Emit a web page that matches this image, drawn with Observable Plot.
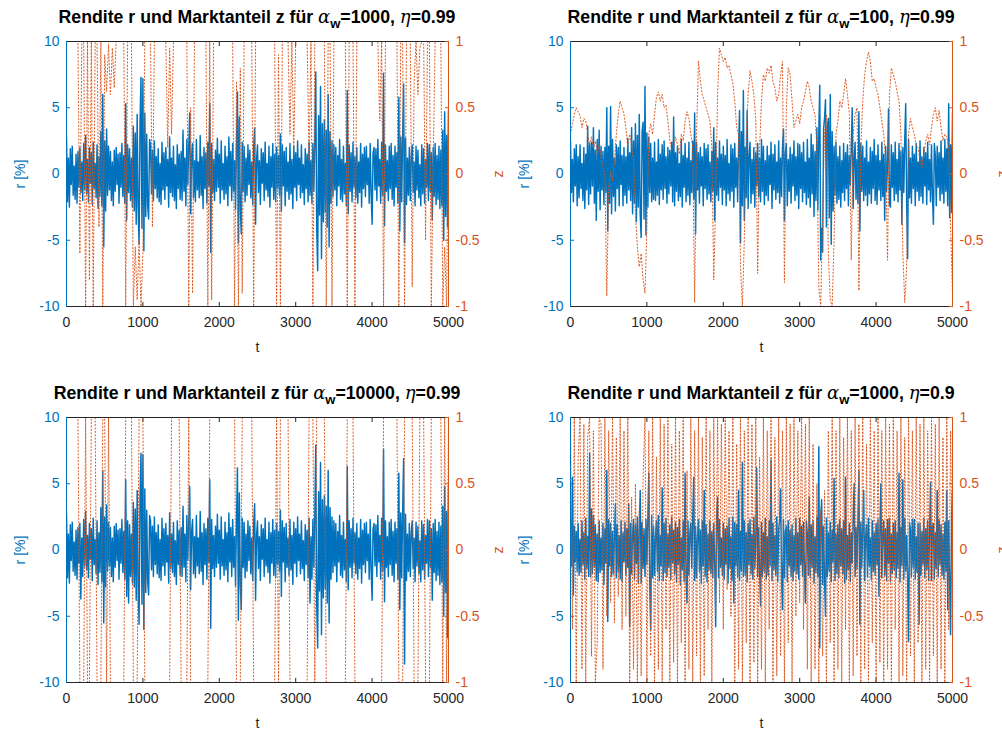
<!DOCTYPE html>
<html><head><meta charset="utf-8">
<script src="https://cdn.jsdelivr.net/npm/d3@7"></script>
<script src="https://cdn.jsdelivr.net/npm/@observablehq/plot@0.6"></script>
<style>
html,body{margin:0;padding:0;background:#fff;}
body{width:1002px;height:729px;overflow:hidden;position:relative;font-family:"Liberation Sans",Arial,sans-serif;}
.title{position:absolute;text-align:center;font-weight:bold;font-size:17.7px;color:#000;white-space:nowrap;line-height:20px;}
.sym{font-family:"DejaVu Serif","Liberation Serif",serif;font-style:italic;font-weight:normal;font-size:18px;}
.title sub{font-size:13px;vertical-align:-5px;line-height:0;}
</style></head><body>
<div id="root"></div>
<script>
// sample spacing in t of the return series and of the market-share series
const rStep = 12.5;
const zStep = 25;
const xTicks = [0,1000,2000,3000,4000,5000];
const rTicks = [-10,-5,0,5,10];
const zTicks = [-1,-0.5,0,0.5,1];
const alphaW = ["1000","100","10000","1000"];
const etaVals = ["0.99","0.99","0.99","0.9"];

// Rendite r [%], panel 1 (alpha_w=1000, eta=0.99)
const r1 = [
2.8,-2.1,1.2,-2.5,1.9,-0.8,2.1,-1.6,0.6,-1.9,1.5,-2.2,1.7,-1.0,2.0,-1.4,0.9,-2.0,2.3,-1.2,
2.9,-1.5,1.1,-2.1,2.0,-0.7,1.6,-2.3,2.4,-1.1,0.8,-1.8,2.2,-2.6,1.3,-1.7,3.2,-2.4,6.0,-5.5,
2.5,-2.8,3.4,-1.6,2.1,-1.2,1.7,-2.0,0.9,-2.4,1.8,-1.3,2.0,-0.8,1.5,-2.2,1.6,-1.0,2.3,-1.7,
1.4,-2.2,5.3,-3.5,2.2,-1.4,1.9,-2.0,1.2,-2.5,3.6,-2.8,3.1,-3.8,4.5,-2.6,-5.3,3.9,7.3,-4.1,
7.2,-5.8,4.6,-3.2,3.0,-2.4,-3.4,2.6,2.2,-1.5,1.8,-2.0,2.5,-1.1,1.3,-1.8,1.9,-2.1,0.8,-2.3,
2.4,-1.2,1.6,-1.9,2.0,-0.9,1.1,-2.5,2.8,-1.4,1.2,-1.7,2.1,-2.0,0.7,-2.6,2.2,-1.1,1.5,-1.9,
1.7,-2.0,3.3,-1.3,1.2,-2.4,2.6,-0.8,2.0,4.6,-3.0,1.4,2.3,-1.8,1.0,-2.1,2.6,-1.2,0.9,-1.8,
2.9,-1.6,1.3,-2.6,2.0,-1.1,1.6,-2.2,2.4,-0.9,5.3,-5.9,2.3,-1.4,1.1,-2.0,1.8,-1.3,2.7,-1.0,
1.5,-2.2,2.5,-1.2,0.8,-1.9,2.1,-1.5,1.3,-2.4,2.8,-0.9,1.7,-2.0,2.3,-1.3,1.0,-2.7,2.0,6.2,
-5.2,4.3,-2.6,-4.5,2.4,-1.3,2.1,-2.1,1.2,-1.6,2.2,-0.8,1.8,-1.8,0.9,-2.3,2.0,3.5,-3.8,1.1,
2.2,-1.4,1.0,-2.3,1.9,-0.7,1.6,-2.0,2.4,-1.2,0.8,-1.7,2.1,-2.5,1.3,-1.0,2.3,-1.9,1.5,-2.1,
2.0,-1.1,1.4,-1.6,3.0,-2.8,2.2,-0.9,1.7,-2.4,2.0,-1.3,0.9,-1.9,2.3,-1.5,1.1,-2.6,2.1,-1.0,
1.6,-2.0,2.5,-0.8,1.2,-1.8,2.2,-1.4,0.7,-2.3,1.9,-1.1,1.5,-2.1,2.4,-1.6,1.0,-2.2,2.3,-1.3,
2.6,7.7,-4.2,-7.3,4.4,-3.1,6.6,-6.4,3.8,-3.6,4.1,-2.9,3.3,-4.0,6.0,-5.5,3.2,-2.2,2.5,-1.7,
2.2,-1.2,2.0,-2.4,1.4,-0.9,2.6,-1.9,1.1,-2.1,2.1,-1.5,0.8,-2.4,6.3,-3.0,2.2,-1.3,1.6,-2.1,
2.4,-1.0,1.3,-1.8,2.0,-2.2,0.9,-1.4,2.3,-2.5,1.5,-1.1,2.0,-1.7,2.1,-0.8,1.2,-2.2,2.3,-1.5,
-3.8,1.6,2.0,-1.2,1.9,-2.0,2.6,-0.9,1.1,-2.2,2.4,-1.6,7.6,-3.9,2.2,-1.3,1.0,-2.0,2.1,-1.1,
2.3,-1.9,1.4,-2.4,2.1,-1.0,1.6,-2.2,5.8,-4.3,2.8,-2.1,3.1,6.8,-5.2,2.7,-2.3,1.2,-1.6,2.0,
-2.0,1.3,2.2,-1.4,0.9,-2.4,2.1,-1.2,1.8,-1.8,0.7,-2.4,2.2,-1.5,1.9,-2.2,1.1,-1.0,2.3,-2.0,
2.2,-1.3,1.6,-3.5,2.0,-1.7,2.3,-2.3,1.4,-1.9,2.1,-2.6,1.8,-2.4,3.3,-5.0,4.7,-3.2,2.9,-4.0,
4.8];

// Rendite r [%], panel 2 (alpha_w=100, eta=0.99)
const r2 = [
2.5,-1.4,1.1,-2.1,1.9,-0.9,2.2,-2.4,1.3,-1.8,2.2,-1.1,0.8,-2.0,2.0,-2.6,1.5,-1.2,3.6,-2.3,
2.3,-1.5,2.4,-0.9,3.5,-2.2,1.8,-3.5,2.6,-1.3,3.3,-2.7,2.1,-1.2,1.7,-2.3,2.0,-1.4,5.0,-4.3,
2.1,-2.2,5.1,-3.0,2.6,-1.7,1.2,-2.8,2.2,-1.1,2.0,-2.4,2.5,-0.8,1.4,-2.4,2.0,-1.6,1.3,-2.2,
2.7,-1.2,1.6,-2.0,3.5,-3.0,2.5,-2.2,3.8,-3.6,2.9,-2.5,4.5,-3.1,-4.8,3.2,3.9,-3.4,6.6,-4.6,
3.1,-2.5,2.8,-1.4,2.3,-2.1,1.2,-1.9,2.4,-2.0,0.9,-1.6,2.6,-2.3,1.5,-1.2,2.2,-1.9,2.5,-1.1,
1.3,-2.2,2.0,-1.5,1.8,-0.9,2.4,-2.1,4.3,-2.4,1.6,-1.3,2.1,-2.0,0.8,-1.7,2.6,-2.5,1.4,-1.0,
2.3,-2.1,1.2,-1.6,2.4,-2.3,1.0,-1.4,2.5,-1.9,4.6,-4.5,2.4,-1.2,1.6,-2.2,2.0,-0.9,1.3,-2.4,
2.3,-1.1,1.9,-1.9,2.2,-1.5,0.9,-2.1,1.7,-1.3,3.5,-3.5,2.4,-1.6,1.2,-2.0,2.5,-1.0,1.5,-2.3,
2.1,-1.2,1.4,-2.4,2.6,-1.5,0.8,-2.0,2.2,-1.3,1.9,-2.5,2.3,-1.0,1.2,-2.1,2.0,4.8,-5.2,3.2,
-2.4,6.3,-3.5,2.0,-1.8,4.8,-2.6,1.3,2.4,-2.2,1.1,-1.5,2.0,-2.5,1.6,-0.9,2.3,-1.7,1.2,-2.1,
2.6,-1.3,2.1,-2.3,1.0,-1.6,2.1,-2.0,1.4,-0.8,2.4,-2.6,1.5,-1.2,2.2,-1.9,0.9,-1.4,2.5,-2.2,
1.2,-1.7,2.1,3.4,-3.5,1.6,2.3,-2.4,1.1,-1.3,2.0,-2.2,1.5,-0.9,2.5,-2.0,1.3,-1.6,2.3,-2.6,
2.2,-1.1,1.6,-2.1,2.4,-1.4,0.9,-2.3,2.6,-1.8,1.2,-2.5,3.0,-1.5,2.2,-3.2,1.7,-2.0,3.5,-2.7,
3.1,6.7,-6.5,-4.1,-5.9,3.4,4.2,5.6,-4.0,3.6,4.2,-3.3,6.0,-5.3,3.2,-2.8,2.1,-1.6,2.4,-2.2,
1.3,-1.9,2.1,-2.5,1.0,-1.4,2.3,-2.0,1.6,-1.1,2.2,-2.4,1.4,-0.8,2.0,5.0,-2.6,1.2,2.4,-1.9,
1.1,-2.2,4.7,-4.3,2.3,-1.3,2.1,-2.0,1.2,-1.6,2.5,-2.4,0.9,-1.5,2.0,-2.2,1.7,-1.1,2.6,-2.0,
1.4,-2.3,2.2,-1.2,1.0,-2.0,2.4,-1.7,1.5,-3.5,2.1,-1.3,0.8,4.9,-2.3,-2.5,2.2,-1.0,1.6,-2.0,
2.4,-1.5,1.1,-2.1,2.3,-1.2,1.7,-3.8,2.0,-1.4,2.6,5.3,-2.2,-6.4,2.6,-1.8,1.2,-2.2,2.1,-1.1,
1.5,-2.4,2.3,-1.3,0.9,-2.0,2.5,-1.7,1.3,-2.2,2.0,-0.9,1.6,-2.3,2.4,-1.2,1.1,-2.1,2.2,-1.6,
-3.8,2.3,1.4,-2.4,2.1,-1.0,1.6,-2.0,2.5,-1.5,1.2,-2.2,2.6,-1.3,1.9,-2.4,5.3,-3.3,2.2,-2.9,
4.6];

// Rendite r [%], panel 3 (alpha_w=10000, eta=0.99)
const r3 = [
2.8,-2.1,1.2,-2.5,1.9,-0.8,2.1,-1.6,0.6,-1.9,1.5,-2.2,1.7,-1.0,2.0,-3.7,0.9,-2.0,2.3,-1.2,
2.9,-1.5,1.1,-2.1,2.0,-0.7,1.6,-2.3,2.4,-1.1,0.8,-1.8,2.2,-2.6,1.3,-1.7,3.2,-2.4,6.0,-5.5,
2.5,-2.8,3.4,-1.6,2.1,-1.2,1.7,-2.0,0.9,-2.4,1.8,-1.3,2.0,-0.8,1.5,-2.2,1.6,-1.0,2.3,-1.7,
1.4,-2.2,5.3,-3.5,2.2,-4.0,1.9,-2.0,1.2,-2.5,3.6,-2.8,3.1,-3.8,4.5,-2.6,-5.6,3.9,7.3,-4.1,
7.2,-6.0,4.6,-3.2,3.0,-2.4,-3.4,2.6,2.2,-1.5,1.8,-2.0,2.5,-1.1,1.3,-1.8,1.9,-2.1,0.8,-2.3,
2.4,-1.2,1.6,-1.9,2.0,-0.9,1.1,-2.5,2.8,-1.4,1.2,-1.7,2.1,-2.0,0.7,-2.6,2.2,-1.1,1.5,-1.9,
1.7,-2.0,3.3,-1.3,1.2,-2.4,2.6,-0.8,2.0,4.8,-3.0,1.4,2.3,-1.8,1.0,-2.1,2.6,-1.2,0.9,-1.8,
2.9,-1.6,1.3,-2.6,2.0,-1.1,1.6,-2.2,2.4,-0.9,5.3,-5.9,2.3,-1.4,1.1,-2.0,1.8,-1.3,2.7,-1.0,
1.5,-2.2,2.5,-1.2,0.8,-1.9,2.1,-1.5,1.3,-2.4,2.8,-0.9,1.7,-2.0,2.3,-1.3,1.0,-2.7,2.0,6.2,
-5.3,4.3,-2.6,-4.5,2.4,-1.3,2.1,-2.1,1.2,-1.6,2.2,-0.8,1.8,-1.8,0.9,-2.3,2.0,3.5,-3.8,1.1,
2.2,-1.4,1.0,-2.3,1.9,-0.7,1.6,-2.0,2.4,-1.2,0.8,-1.7,2.1,-2.5,1.3,-1.0,2.3,-1.9,1.5,-2.1,
2.0,-1.1,1.4,-1.6,3.0,-3.5,2.2,-0.9,1.7,-2.4,2.0,-1.3,0.9,-1.9,2.3,-1.5,1.1,-2.6,2.1,-1.0,
1.6,-2.0,2.5,-0.8,1.2,-1.8,2.2,-1.4,0.7,-2.3,1.9,-1.1,1.5,-2.1,2.4,-4.0,1.0,-2.2,2.3,-1.3,
2.6,7.9,-4.2,-7.4,4.4,-3.1,6.6,-6.4,3.8,-3.6,4.1,-2.9,3.3,-4.0,6.0,-5.5,3.2,-2.2,2.5,-1.7,
2.2,-1.2,2.0,-2.4,1.4,-0.9,2.6,-1.9,1.1,-2.1,2.1,-1.5,0.8,-2.4,6.3,-3.0,2.2,-1.3,1.6,-2.1,
2.4,-1.0,1.3,-1.8,2.0,-2.2,0.9,-1.4,2.3,-2.5,1.5,-1.1,2.0,-1.7,2.1,-0.8,1.2,-2.2,2.3,-1.5,
-3.8,1.6,2.0,-1.2,1.9,-2.0,2.6,-0.9,1.1,-2.2,2.4,-1.6,7.6,-3.9,2.2,-1.3,1.0,-2.0,2.1,-1.1,
2.3,-1.9,1.4,-2.4,2.1,-1.0,1.6,-2.2,5.8,-4.5,2.8,-2.1,3.1,6.9,-8.6,2.7,-2.3,1.2,-1.6,2.0,
-2.0,1.3,2.2,-1.4,0.9,-2.4,2.1,-1.2,1.8,-1.8,0.7,-2.4,2.2,-1.5,1.9,-2.2,1.1,-1.0,2.3,-2.0,
2.2,-1.3,1.6,-3.8,2.0,-1.7,2.3,-2.3,1.4,-1.9,2.1,-2.6,1.8,-2.4,3.3,-5.0,4.8,-3.2,2.9,-6.6,
4.8];

// Rendite r [%], panel 4 (alpha_w=1000, eta=0.9)
const r4 = [
2.1,-1.2,5.5,-3.4,1.8,-0.9,1.4,-1.6,2.0,-1.9,0.8,-1.7,2.2,-1.1,1.3,-2.2,2.4,-1.4,1.0,-2.0,
7.3,-2.0,3.1,-1.8,2.6,-1.3,1.9,-2.3,1.2,-2.4,2.2,-1.7,0.9,-1.5,2.0,-2.6,1.6,-1.0,6.0,-5.4,
2.3,-1.2,2.0,-2.0,1.4,-1.8,0.8,3.5,-2.1,1.9,-1.6,1.1,-2.2,2.2,-2.4,1.3,-0.9,2.1,-1.9,1.6,
-1.3,3.5,-5.8,2.0,-1.8,1.2,2.3,-2.2,1.9,-1.0,2.5,-2.5,1.3,4.5,-2.5,2.1,-1.4,1.6,-2.0,2.3,
-1.1,2.4,5.8,-2.7,-6.0,2.6,-2.1,1.8,-1.9,1.0,2.2,-1.6,2.6,-2.3,1.1,-1.2,4.7,-2.3,2.0,-1.7,
2.4,-2.0,1.2,-1.3,1.9,-2.2,2.5,-1.0,1.5,-1.8,2.1,-2.4,1.7,-1.1,2.3,-2.6,0.9,-1.5,2.2,-2.4,
5.8,-2.1,-4.0,2.2,-1.9,1.3,2.0,-1.4,2.4,5.5,-2.3,1.8,-2.1,1.0,2.3,-1.6,1.5,-2.5,2.2,-1.2,
4.5,-2.0,1.9,-2.4,1.2,-1.5,2.2,-1.8,1.4,-2.1,2.0,-1.0,-5.8,2.6,4.0,-2.1,2.3,-1.3,0.9,-1.9,
2.0,-2.2,1.6,-1.1,1.8,-2.5,2.4,-1.4,1.0,-2.3,2.5,-4.0,2.1,-1.2,1.9,-2.0,4.5,-2.3,1.4,-1.6,
6.6,-2.0,2.2,-1.9,1.3,-2.4,2.0,-1.1,2.3,-1.8,1.2,-2.2,2.5,-1.4,0.8,6.2,-2.0,1.7,-1.5,-4.2,
2.1,-2.0,1.3,-1.6,2.4,-2.2,1.0,-1.9,2.2,-1.2,6.8,-2.3,2.0,-1.5,1.1,-1.9,2.5,-2.4,1.6,2.2,
4.6,-2.0,-4.5,2.3,-2.1,1.4,1.8,-2.4,2.2,-1.2,1.5,-2.0,1.9,-2.3,1.1,-1.6,2.4,-1.8,1.3,-2.2,
2.4,-1.1,1.8,-2.0,2.1,-1.4,-4.0,2.2,1.2,-1.9,4.0,-2.1,1.9,-1.3,2.2,-2.5,1.0,-1.7,2.5,-2.0,
7.8,-7.4,2.6,3.8,-2.6,1.8,-2.2,-5.0,2.4,-2.0,1.3,-1.6,2.1,-2.4,1.5,-0.9,5.4,-2.3,1.2,-1.8,
1.9,-2.1,2.3,-1.2,1.6,-1.8,2.2,-2.5,5.5,-2.2,1.1,-1.5,2.0,-2.4,1.3,-1.0,2.4,5.0,-2.0,1.7,
-1.4,2.2,6.0,-5.6,2.1,-1.3,1.6,4.5,-2.3,1.0,1.9,-2.0,2.4,-1.2,0.9,-2.2,2.2,-1.6,1.3,-1.9,
2.0,-1.1,2.3,-3.5,1.4,5.0,-2.1,1.2,2.2,-1.9,1.6,-2.3,2.3,-1.0,2.4,-2.4,1.2,-1.8,2.0,-1.5,
2.2,-2.1,1.3,-1.4,5.8,-2.4,1.7,-1.2,5.3,-2.2,2.4,-1.6,1.1,-2.0,-6.9,2.1,1.5,-2.0,2.3,-1.3,
2.3,-2.2,1.0,-1.7,2.0,-5.6,2.0,-1.9,1.4,-1.1,2.4,-2.1,1.6,-1.5,2.2,-2.3,1.2,5.1,-2.3,1.8,
2.0,-2.2,1.3,-1.4,4.5,-2.0,2.3,-1.1,1.9,-1.9,1.2,-2.2,2.1,-1.6,4.5,-4.5,2.2,-2.4,-6.4,2.6,
4.5];

// Marktanteil z, panel 1
const z1 = [
1,1,1,1,1,1,1,-0.6,1,1,
-1,1,-0.8,1,-1,1,1,-0.4,1,-1,
0.9,0.62,0.98,0.6,0.95,0.65,1,1,1,1,
1,-1,1,1,1,-1,-0.55,-0.95,-0.5,-1,
-0.6,1,1,1,1,-0.4,1,1,1,1,
1,1,1,0.2,0.95,0.3,1,1,1,1,
1,1,1,1,-1,0.5,-0.9,1,1,1,
1,1,1,1,-1,1,-0.95,1,1,1,
1,1,1,1,1,1,1,1,-1,0.7,
-1,0.8,-0.9,1,1,1,1,1,-1,1,
1,1,1,1,1,1,1,1,1,1,
-1,0.9,-1,1,1,1,1,0.3,1,0.2,
1,1,1,1,1,1,1,0.1,1,-1,
1,1,1,1,1,1,-1,1,1,-1,
1,1,1,1,1,1,1,-1,1,1,
1,-1,1,1,1,1,1,1,1,1,
1,1,1,1,0.4,1,-1,1,1,1,
1,1,1,1,-1,1,1,-1,1,1,
1,-0.85,0.7,1,0.6,0.95,1,1,-0.5,1,
1,-1,0.1,1,1,1,1,-1,-0.55,-1,
0.6];

// Marktanteil z, panel 2
const z2 = [
0.3,0.38,0.45,0.5,0.47,0.44,0.35,0.42,0.4,0.3,
0.22,0.28,0.2,0.25,0.15,0.22,0.12,0.05,0.0,-0.92,
-0.1,0.02,-0.05,0.1,0.3,0.45,0.55,0.5,0.45,0.35,
0.2,0.3,0.22,0.1,-0.3,-0.55,-0.7,-0.6,-0.8,-0.9,
-0.4,0.3,0.38,0.3,0.45,0.58,0.62,0.55,0.6,0.5,
0.52,0.4,0.25,0.18,0.2,0.28,0.22,0.15,0.3,0.25,
0.4,0.47,0.42,0.3,0.2,-0.97,0.3,0.85,0.7,0.6,
0.55,0.5,0.45,0.4,0.2,-0.8,-0.2,0.6,0.95,0.9,
0.85,0.88,0.8,0.82,0.75,0.68,0.55,0.35,0.3,-0.7,
-1.0,-0.5,0.3,0.6,0.78,0.7,0.6,0.4,-0.75,0.2,
0.55,0.75,0.7,0.8,0.76,0.82,0.7,0.65,0.55,0.6,
0.75,0.85,-0.82,0.5,0.8,0.75,0.55,0.35,0.4,0.45,
0.38,0.5,0.55,0.62,0.7,0.65,0.55,0.5,0.45,0.2,
-0.85,-1.0,-0.3,0.3,0.45,-0.6,-0.95,-1.0,-0.5,0.3,
0.4,0.55,0.5,0.6,0.72,0.6,0.45,-0.65,0.3,0.45,
0.5,-0.88,0.2,0.55,0.75,0.85,0.92,0.85,0.7,0.72,
0.65,0.6,0.5,0.4,0.3,0.1,-0.65,0.6,0.8,0.75,
0.7,0.62,0.55,0.3,-0.6,-0.97,-0.7,0.3,0.42,0.35,
0.3,0.22,0.2,0.1,0.05,0.15,0.25,0.3,0.22,0.35,
0.45,0.5,0.4,0.48,0.35,0.25,0.3,0.28,0.2,-0.4,
-0.9];

// Marktanteil z, panel 3
const z3 = [
1,1,1,1,1,1,1,-1,-1,-1,
1,-1,-1,1,1,1,-1,-1,-1,1,
1,-1,1,-1,-1,-1,-1,-1,-1,-1,
-1,1,1,1,1,-1,-1,-1,1,1,
1,-1,-1,-1,-1,-1,-1,-1,-1,-1,
-1,-1,-1,-1,-1,1,1,1,1,1,
-1,-1,-1,-1,1,-1,-1,-1,-1,-1,
-1,-1,-1,-1,-1,1,1,1,1,1,
1,1,1,1,1,1,1,1,1,-1,
-1,-1,1,1,1,1,1,1,-1,-1,
-1,-1,-1,-1,-1,-1,-1,-1,-1,-1,
1,-1,1,1,1,1,1,-1,-1,-1,
-1,-1,-1,-1,-1,-1,-1,1,1,1,
-1,1,1,1,1,1,-1,-1,-1,-1,
-1,-1,-1,-1,-1,-1,-1,1,1,1,
1,-1,-1,-1,-1,-1,-1,-1,-1,-1,
-1,-1,-1,-1,-1,-1,1,1,1,1,
1,1,1,1,-1,-1,-1,1,1,1,
1,1,-1,-1,-1,1,1,1,-1,-1,
-1,1,1,1,1,1,1,-1,1,-1,
1];

// Marktanteil z, panel 4
const z4 = [
0.9,-0.6,1,-1,0.7,1,-0.9,0.95,-1,0.85,
1,-0.8,0.9,-1,-0.7,1,0.95,-0.9,1,-0.5,
0.9,-0.4,1,-0.55,0.85,-0.35,1,-0.6,0.9,-0.5,
1,-1,0.4,-0.9,0.5,-1,0.3,-0.95,0.55,1,
-1,0.9,-0.8,1,-1,0.7,-0.9,1,-1,0.95,
-0.6,1,-1,0.8,-0.85,1,-1,0.9,-0.7,1,
-1,0.6,-0.9,1,-1,0.9,-0.8,1,-1,0.85,
-0.95,1,-0.6,0.9,-1,1,-0.5,1,-0.4,0.95,
-0.6,1,-0.3,0.9,-0.5,1,-1,0.8,-0.9,1,
-1,0.9,-0.7,1,-1,0.95,-0.85,1,-1,0.7,
-0.9,1,-1,0.9,-0.6,1,-1,0.85,-0.95,1,
-0.8,0.9,-1,1,-0.7,0.95,-1,1,-0.5,0.9,
-0.4,1,-0.6,0.95,-0.9,1,-1,0.8,-0.9,0.5,
-1,0.3,-0.8,0.45,-1,0.9,-0.7,1,-1,0.9,
-0.9,1,-1,0.85,-0.6,1,-1,0.9,-0.95,1,
-0.8,0.95,-1,1,-0.9,0.8,-1,1,-0.7,0.9,
-1,1,-0.85,0.9,-1,1,-0.9,0.95,-1,1,
-0.6,0.9,-1,1,-0.95,0.85,-1,1,-0.8,0.9,
-1,1,-0.7,0.95,-1,1,-0.9,0.9,-1,1,
-0.8,0.95,-1,1,-0.9,0.85,-1,1,-0.6,0.9,
-0.3];

const blueC = "#0072BD", orangeC = "#D95319", darkC = "#262626";
const panels = [
  {r:r1, z:z1, k:0, left:66,  top:41},
  {r:r2, z:z2, k:1, left:570, top:41},
  {r:r3, z:z3, k:2, left:66,  top:417},
  {r:r4, z:z4, k:3, left:570, top:417}
];

const root = document.getElementById("root");
const W = 382, H = 265, mL = 70, mR = 64, mT = 14, mB = 50;
const fmt = d => String(d);

panels.forEach(p => {
  const rData = p.r.map((v,i) => ({t: i*rStep, r: v}));
  const zData = p.z.map((v,i) => ({t: i*zStep, z: v}));
  const common = {
    width: mL+W+mR, height: mT+H+mB,
    marginLeft: mL, marginRight: mR, marginTop: mT, marginBottom: mB,
    style: {background: "transparent", fontFamily: "'Liberation Sans', Arial, sans-serif", fontSize: "14px", overflow: "visible"}
  };
  const blue = Plot.plot({
    ...common,
    x: {domain: [0,5000]},
    y: {domain: [-10,10]},
    marks: [
      Plot.line(rData, {x: "t", y: "r", stroke: blueC, strokeWidth: 1.45, clip: true}),
      Plot.axisX({ticks: xTicks, tickSize: 0, tickPadding: 11, tickFormat: fmt, color: darkC, label: "t", labelAnchor: "center", labelOffset: 45, labelArrow: "none"}),
      Plot.axisX({ticks: xTicks, tickSize: -4, text: null, color: darkC, label: null}),
      Plot.axisX({anchor: "top", ticks: xTicks, tickSize: -4, text: null, color: darkC, label: null}),
      Plot.axisY({ticks: rTicks, tickSize: 0, tickPadding: 7, tickFormat: fmt, color: blueC, label: "r [%]", labelAnchor: "center", labelOffset: 51, labelArrow: "none"}),
      Plot.axisY({ticks: rTicks, tickSize: -4, text: null, color: blueC, label: null})
    ]
  });
  const orange = Plot.plot({
    ...common,
    x: {domain: [0,5000], axis: null},
    y: {domain: [-1,1]},
    marks: [
      Plot.line(zData, {x: "t", y: "z", stroke: orangeC, strokeWidth: 0.95, strokeDasharray: "1.2,2.2", clip: true}),
      Plot.frame({anchor: "bottom", stroke: darkC}),
      Plot.frame({anchor: "top", stroke: darkC}),
      Plot.frame({anchor: "left", stroke: blueC}),
      Plot.frame({anchor: "right", stroke: orangeC}),
      Plot.axisY({anchor: "right", ticks: zTicks, tickSize: 0, tickPadding: 7, tickFormat: fmt, color: orangeC, label: "z", labelAnchor: "center", labelOffset: 54, labelArrow: "none"}),
      Plot.axisY({anchor: "right", ticks: zTicks, tickSize: -4, text: null, color: orangeC, label: null})
    ]
  });
  for (const el of [blue, orange]) {
    el.style.position = "absolute";
    el.style.left = (p.left - mL) + "px";
    el.style.top = (p.top - mT) + "px";
    root.appendChild(el);
  }
  const title = document.createElement("div");
  title.className = "title";
  title.style.left = (p.left - 60) + "px";
  title.style.width = (W + 120) + "px";
  title.style.top = (p.top - 34) + "px";
  title.innerHTML = `Rendite r und Marktanteil z für <span class="sym">α</span><sub>w</sub>=${alphaW[p.k]}, <span class="sym">η</span>=${etaVals[p.k]}`;
  root.appendChild(title);
});
</script>
</body></html>
